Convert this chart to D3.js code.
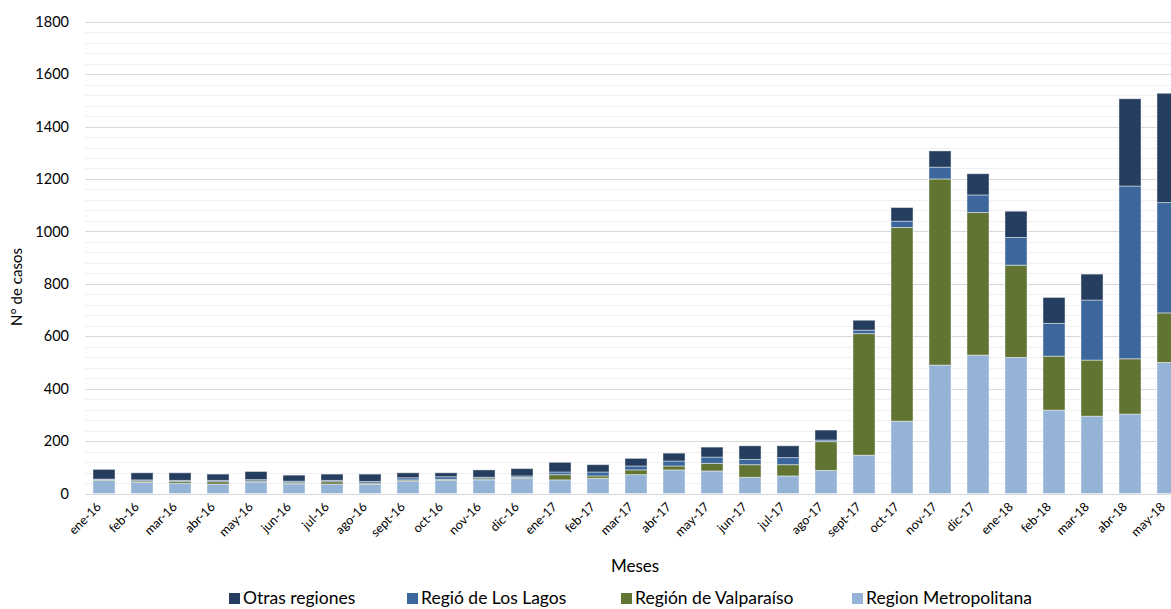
<!DOCTYPE html>
<html>
<head>
<meta charset="utf-8">
<script src="https://cdn.jsdelivr.net/npm/d3@7"></script>
<style>
  html, body { margin: 0; padding: 0; background: #fff; }
  svg { display: block; font-family: Lato, "Open Sans", sans-serif; }
</style>
</head>
<body>
<svg id="chart" width="1171" height="609"></svg>
<script>
// Monthly case counts by region, stacked
const months = ["ene-16","feb-16","mar-16","abr-16","may-16","jun-16","jul-16","ago-16","sept-16","oct-16","nov-16","dic-16",
                "ene-17","feb-17","mar-17","abr-17","may-17","jun-17","jul-17","ago-17","sept-17","oct-17","nov-17","dic-17",
                "ene-18","feb-18","mar-18","abr-18","may-18"];
const metropolitana = [50,43,39,36,44,37,36,36,48,50,52,57,52,58,72,90,86,62,67,88,146,276,490,528,519,318,295,303,500];
const valparaiso    = [ 3, 5, 7, 9, 4, 4, 9, 4, 4, 4, 4, 4,20, 9,18,15,29,48,43,110,464,739,710,544,352,206,214,211,189];
const losLagos      = [ 2, 4, 4, 5, 5, 6, 5, 6, 8,10, 6, 6,10,15,15,19,24,20,27, 6,13,24,45,67,106,125,229,659,421];
const otras         = [37,27,29,24,31,23,24,28,19,15,28,28,37,28,29,30,38,52,45,38,38,52,62,81,100,99,99,333,417];

const seriesNames  = ["Region Metropolitana","Región de Valparaíso","Regió de Los Lagos","Otras regiones"];
const seriesColors = ["#95B3D7","#617431","#3B679D","#253D5E"];
const legendOrder  = ["Otras regiones","Regió de Los Lagos","Región de Valparaíso","Region Metropolitana"];
const yTicks = [0,200,400,600,800,1000,1200,1400,1600,1800];

const svg = d3.select("#chart");
const plotLeft = 85, plotRight = 1171, yTop = 21.7, yBase = 493.5;

const rows = months.map((m, i) => ({
  month: m,
  "Region Metropolitana": metropolitana[i],
  "Región de Valparaíso": valparaiso[i],
  "Regió de Los Lagos": losLagos[i],
  "Otras regiones": otras[i]
}));

const x = d3.scaleBand().domain(months).range([plotLeft, plotLeft + months.length * 38])
  .paddingInner(0.42).paddingOuter(0.21);
const y = d3.scaleLinear().domain([0, 1800]).range([yBase, yTop]);
const color = d3.scaleOrdinal().domain(seriesNames).range(seriesColors);

// minor gridlines every 40
svg.append("g").selectAll("line")
  .data(d3.range(40, 1801, 40).filter(v => v % 200 !== 0))
  .join("line")
  .attr("x1", plotLeft).attr("x2", plotRight)
  .attr("y1", d => Math.round(y(d)) + 0.5).attr("y2", d => Math.round(y(d)) + 0.5)
  .attr("stroke", "#f0f0f0").attr("stroke-width", 1.2);

// major gridlines
svg.append("g").selectAll("line")
  .data(yTicks)
  .join("line")
  .attr("x1", plotLeft).attr("x2", plotRight)
  .attr("y1", d => Math.round(y(d)) + 0.5).attr("y2", d => Math.round(y(d)) + 0.5)
  .attr("stroke", "#d9d9d9").attr("stroke-width", 1.2);

// y tick labels
const yAxis = d3.axisLeft(y).tickValues(yTicks).tickSize(0).tickPadding(0).tickFormat(d3.format("d"));
const gy = svg.append("g").attr("transform", "translate(69,0)").call(yAxis);
gy.select(".domain").remove();
gy.selectAll("text").attr("font-family", "Lato, sans-serif").attr("font-size", 14.5).attr("fill", "#000");

// stacked bars
const stack = d3.stack().keys(seriesNames);
const layers = stack(rows);
svg.append("g").selectAll("g")
  .data(layers)
  .join("g")
  .attr("fill", d => color(d.key))
  .selectAll("rect")
  .data(d => d)
  .join("rect")
  .attr("x", d => x(d.data.month))
  .attr("width", x.bandwidth())
  .attr("y", d => y(d[1]))
  .attr("height", d => y(d[0]) - y(d[1]))
  .attr("stroke", "rgba(255,255,255,0.45)")
  .attr("stroke-width", 1);

// x tick labels (rotated)
const xAxis = d3.axisBottom(x).tickSize(0).tickPadding(0);
const gx = svg.append("g").attr("transform", `translate(0,${yBase})`).call(xAxis);
gx.select(".domain").remove();
gx.selectAll(".tick text")
  .attr("font-family", "Lato, sans-serif").attr("font-size", 12.5).attr("fill", "#000")
  .attr("text-anchor", "end")
  .attr("dy", null)
  .attr("transform", "translate(-2,14) rotate(-45)");

// axis titles
svg.append("text")
  .attr("transform", "translate(22,287) rotate(-90)")
  .attr("text-anchor", "middle")
  .attr("font-size", 15).attr("fill", "#000")
  .text("N° de casos");
svg.append("text")
  .attr("x", 635).attr("y", 572)
  .attr("text-anchor", "middle")
  .attr("font-size", 17).attr("fill", "#000")
  .text("Meses");

// legend
const legendX = [229, 407, 621, 852];
const legend = svg.append("g").selectAll("g")
  .data(legendOrder)
  .join("g")
  .attr("transform", (d, i) => `translate(${legendX[i]},598)`);
legend.append("rect")
  .attr("x", 0).attr("y", -5).attr("width", 11).attr("height", 11)
  .attr("fill", d => color(d));
legend.append("text")
  .attr("x", 14).attr("y", 0).attr("dy", "0.36em")
  .attr("font-size", 17.5).attr("fill", "#000")
  .text(d => d);
</script>
</body>
</html>
